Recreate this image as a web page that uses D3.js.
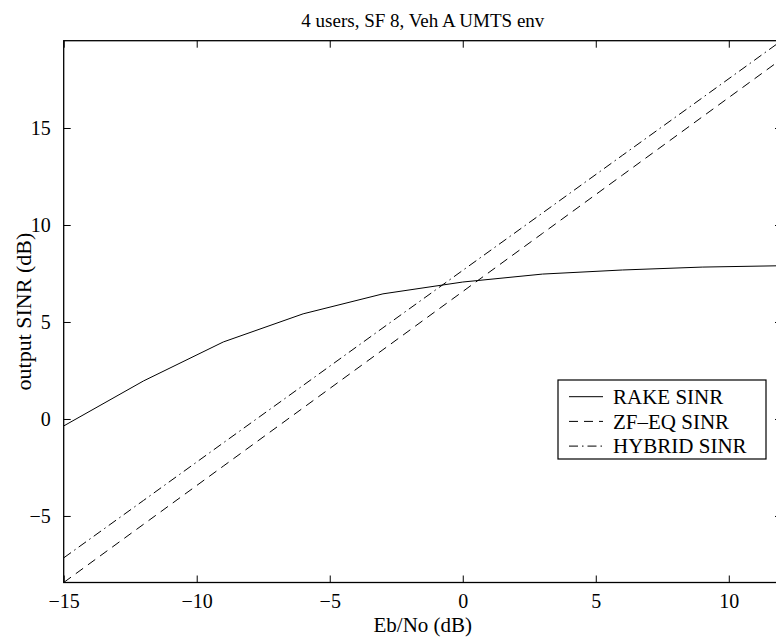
<!DOCTYPE html>
<html>
<head>
<meta charset="utf-8">
<script src="https://cdn.jsdelivr.net/npm/d3@7"></script>
<style>
  body { margin: 0; background: #fff; }
  svg { display: block; overflow: hidden; }
  text { font-family: "Liberation Serif", "Times New Roman", Times, serif; fill: #000; }
</style>
</head>
<body>
<div class="chart"></div>
<script>
// values
const ebno = [-15, -12, -9, -6, -3, 0, 3, 6, 9, 12];
const rakeSinr = [-0.36, 1.96, 3.97, 5.42, 6.45, 7.06, 7.47, 7.68, 7.83, 7.9];
const zfSinr = [-8.43, -5.43, -2.43, 0.57, 3.57, 6.57, 9.57, 12.57, 15.57, 18.57];
const hybridSinr = [-7.16, -4.2, -1.23, 1.73, 4.7, 7.66, 10.62, 13.59, 16.55, 19.52];
const xTicks = [-15, -10, -5, 0, 5, 10];
const yTicks = [-5, 0, 5, 10, 15];
const seriesNames = ["RAKE SINR", "ZF\u2013EQ SINR", "HYBRID SINR"];

const w = 776, h = 639;
const pL = 63.7, pR = 782, pT = 40.7, pB = 582.5;

const x = d3.scaleLinear().domain([-15, 12]).range([pL, pR]);
const y = d3.scaleLinear().domain([-8.43, 19.5]).range([pB, pT]);

const svg = d3.select(".chart").append("svg")
  .attr("width", w).attr("height", h);

svg.append("clipPath").attr("id", "plotclip")
  .append("rect")
  .attr("x", pL).attr("y", pT)
  .attr("width", pR - pL).attr("height", pB - pT);

const fmt = d => d < 0 ? "\u2212" + Math.abs(d) : String(d);

// axes, matlab style: ticks inside on all four sides
const tl = 7;
svg.append("g").attr("transform", `translate(0,${pB})`)
  .call(d3.axisBottom(x).tickValues(xTicks).tickSizeInner(-tl).tickSizeOuter(0).tickPadding(11).tickFormat(fmt));
svg.append("g").attr("transform", `translate(0,${pT})`)
  .call(d3.axisTop(x).tickValues(xTicks).tickSizeInner(-tl).tickSizeOuter(0).tickFormat(""));
svg.append("g").attr("transform", `translate(${pL},0)`)
  .call(d3.axisLeft(y).tickValues(yTicks).tickSizeInner(-tl).tickSizeOuter(0).tickPadding(13).tickFormat(fmt));
svg.append("g").attr("transform", `translate(${pR},0)`)
  .call(d3.axisRight(y).tickValues(yTicks).tickSizeInner(-tl).tickSizeOuter(0).tickFormat(""));

svg.selectAll(".domain").remove();
svg.selectAll(".tick line").attr("stroke", "#000").attr("stroke-width", 1);
svg.selectAll(".tick text").attr("font-size", 20).attr("font-family", null);

svg.append("rect")
  .attr("x", pL).attr("y", pT)
  .attr("width", pR - pL).attr("height", pB - pT)
  .attr("fill", "none").attr("stroke", "#000").attr("stroke-width", 1.3);

// series
const series = [
  { name: seriesNames[0], vals: rakeSinr, dash: null },
  { name: seriesNames[1], vals: zfSinr, dash: "9,6" },
  { name: seriesNames[2], vals: hybridSinr, dash: "9,4,1.5,4" }
];

const line = d3.line().x((d, i) => x(ebno[i])).y(d => y(d));

const plot = svg.append("g").attr("clip-path", "url(#plotclip)");
series.forEach(s => {
  plot.append("path")
    .datum(s.vals)
    .attr("d", line)
    .attr("fill", "none")
    .attr("stroke", "#000")
    .attr("stroke-width", 1)
    .attr("stroke-dasharray", s.dash);
});

// legend
const lg = svg.append("g");
lg.append("rect")
  .attr("x", 558).attr("y", 380).attr("width", 208).attr("height", 79)
  .attr("fill", "#fff").attr("stroke", "#000").attr("stroke-width", 1.2);
series.forEach((s, i) => {
  const cy = 396.7 + i * 24.7;
  lg.append("line")
    .attr("x1", 569).attr("x2", 603).attr("y1", cy).attr("y2", cy)
    .attr("stroke", "#000").attr("stroke-width", 1)
    .attr("stroke-dasharray", s.dash);
  lg.append("text")
    .attr("x", 613).attr("y", cy).attr("dy", "0.35em")
    .attr("font-size", 21)
    .text(s.name);
});

// titles
svg.append("text")
  .attr("x", (pL + pR) / 2).attr("y", 27)
  .attr("text-anchor", "middle").attr("font-size", 19)
  .text("4 users, SF 8, Veh A UMTS env");
svg.append("text")
  .attr("x", (pL + pR) / 2).attr("y", 632)
  .attr("text-anchor", "middle").attr("font-size", 21)
  .text("Eb/No (dB)");
svg.append("text")
  .attr("transform", `translate(31,${(pT + pB) / 2}) rotate(-90)`)
  .attr("text-anchor", "middle").attr("font-size", 22)
  .text("output SINR (dB)");
</script>
</body>
</html>
